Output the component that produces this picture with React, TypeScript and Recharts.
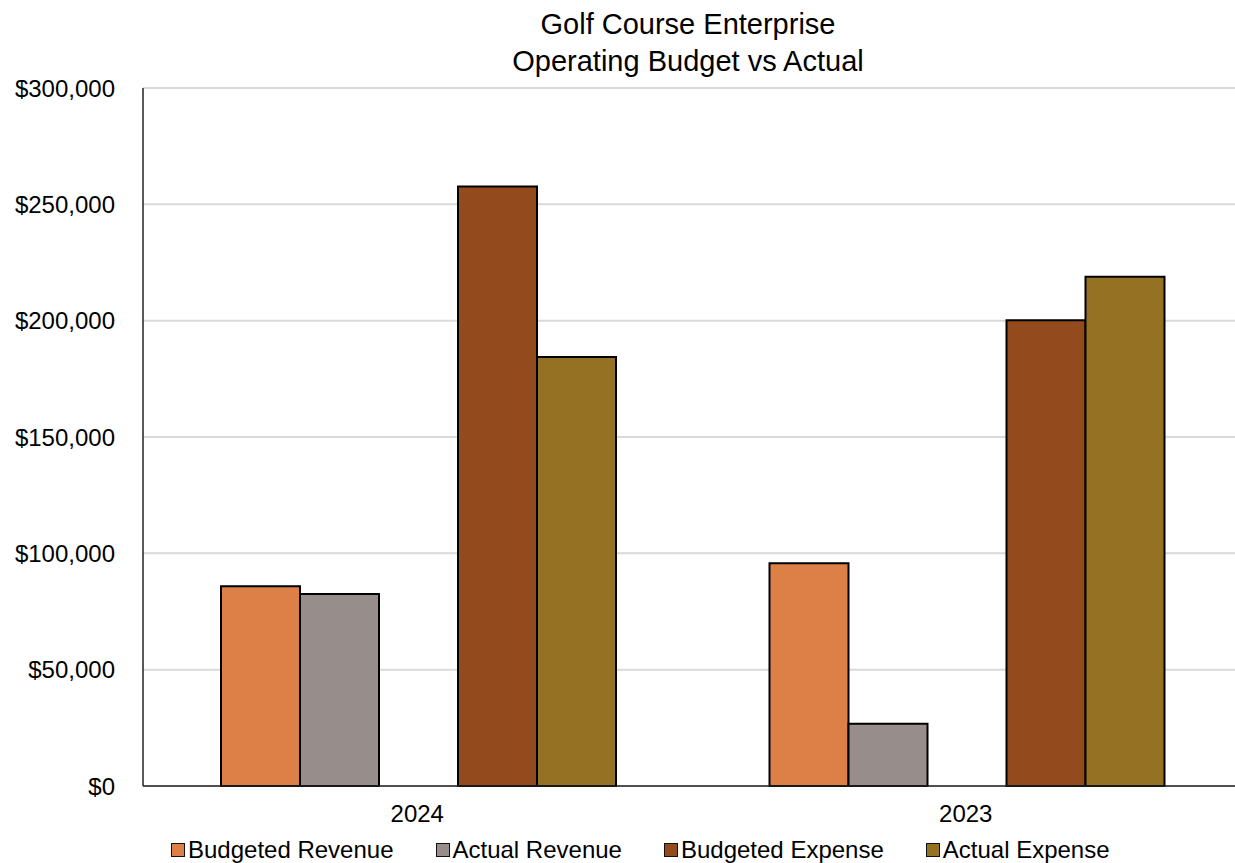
import { Bar, BarChart, CartesianGrid, Legend, XAxis, YAxis } from "recharts";

const years = ["2024", "2023"];
const budgetedRevenue = [85900, 95700];
const actualRevenue = [82500, 26800];
const budgetedExpense = [257700, 200200];
const actualExpense = [184400, 218900];
const yTicks = [0, 50000, 100000, 150000, 200000, 250000, 300000];

const seriesNames = ["Budgeted Revenue", "Actual Revenue", "Budgeted Expense", "Actual Expense"];
const seriesColors = ["#DD8048", "#978D8B", "#934A1C", "#957124"];

const FONT = '"Liberation Sans", Arial, sans-serif';

const data = years.map((year, i) => ({
  year,
  br: budgetedRevenue[i],
  ar: actualRevenue[i],
  spacer: null,
  be: budgetedExpense[i],
  ae: actualExpense[i],
}));

function LegendBox() {
  return (
    <div style={{ display: "flex", gap: 42, fontFamily: FONT, fontSize: 24, color: "#000", lineHeight: "27px" }}>
      {seriesNames.map((name, i) => (
        <div key={name} style={{ display: "flex", alignItems: "center" }}>
          <span
            style={{
              display: "inline-block",
              width: 12,
              height: 12,
              background: seriesColors[i],
              border: "1.5px solid #111",
              marginRight: 3,
            }}
          />
          <span>{name}</span>
        </div>
      ))}
    </div>
  );
}

export default function App() {
  return (
    <div style={{ position: "absolute", left: 0, top: 0, width: 1235, height: 863, background: "#fff", overflow: "hidden" }}>
      <div
        style={{
          position: "absolute",
          left: 143,
          width: 1090,
          top: 6,
          textAlign: "center",
          fontFamily: FONT,
          fontSize: 29,
          lineHeight: "37px",
          color: "#000",
        }}
      >
        Golf Course Enterprise
        <br />
        Operating Budget vs Actual
      </div>
      <BarChart
        width={1235}
        height={863}
        data={data}
        margin={{ top: 88, right: -5, bottom: 37, left: 0 }}
        barCategoryGap={78}
        barGap={0}
      >
        <CartesianGrid vertical={false} stroke="#d9d9d9" strokeWidth={2} />
        <XAxis
          dataKey="year"
          height={40}
          tickLine={false}
          tickSize={6}
          tickMargin={13}
          axisLine={{ stroke: "#222", strokeWidth: 1.5 }}
          tick={{ fontSize: 24, fill: "#000", fontFamily: FONT }}
        />
        <YAxis
          width={143}
          domain={[0, 300000]}
          ticks={yTicks}
          interval={0}
          tickLine={false}
          tickSize={6}
          tickMargin={22}
          axisLine={{ stroke: "#222", strokeWidth: 1.5 }}
          tick={{ fontSize: 24, fill: "#000", fontFamily: FONT }}
          tickFormatter={(v: number) => `$${v.toLocaleString("en-US")}`}
        />
        <Legend
          layout="horizontal"
          verticalAlign="middle"
          align="center"
          content={() => <LegendBox />}
          wrapperStyle={{ top: 836, left: 171, width: "auto" }}
        />
        <Bar dataKey="br" name={seriesNames[0]} fill={seriesColors[0]} stroke="#000" strokeWidth={2} isAnimationActive={false} />
        <Bar dataKey="ar" name={seriesNames[1]} fill={seriesColors[1]} stroke="#000" strokeWidth={2} isAnimationActive={false} />
        <Bar dataKey="spacer" legendType="none" fill="none" isAnimationActive={false} />
        <Bar dataKey="be" name={seriesNames[2]} fill={seriesColors[2]} stroke="#000" strokeWidth={2} isAnimationActive={false} />
        <Bar dataKey="ae" name={seriesNames[3]} fill={seriesColors[3]} stroke="#000" strokeWidth={2} isAnimationActive={false} />
      </BarChart>
    </div>
  );
}
